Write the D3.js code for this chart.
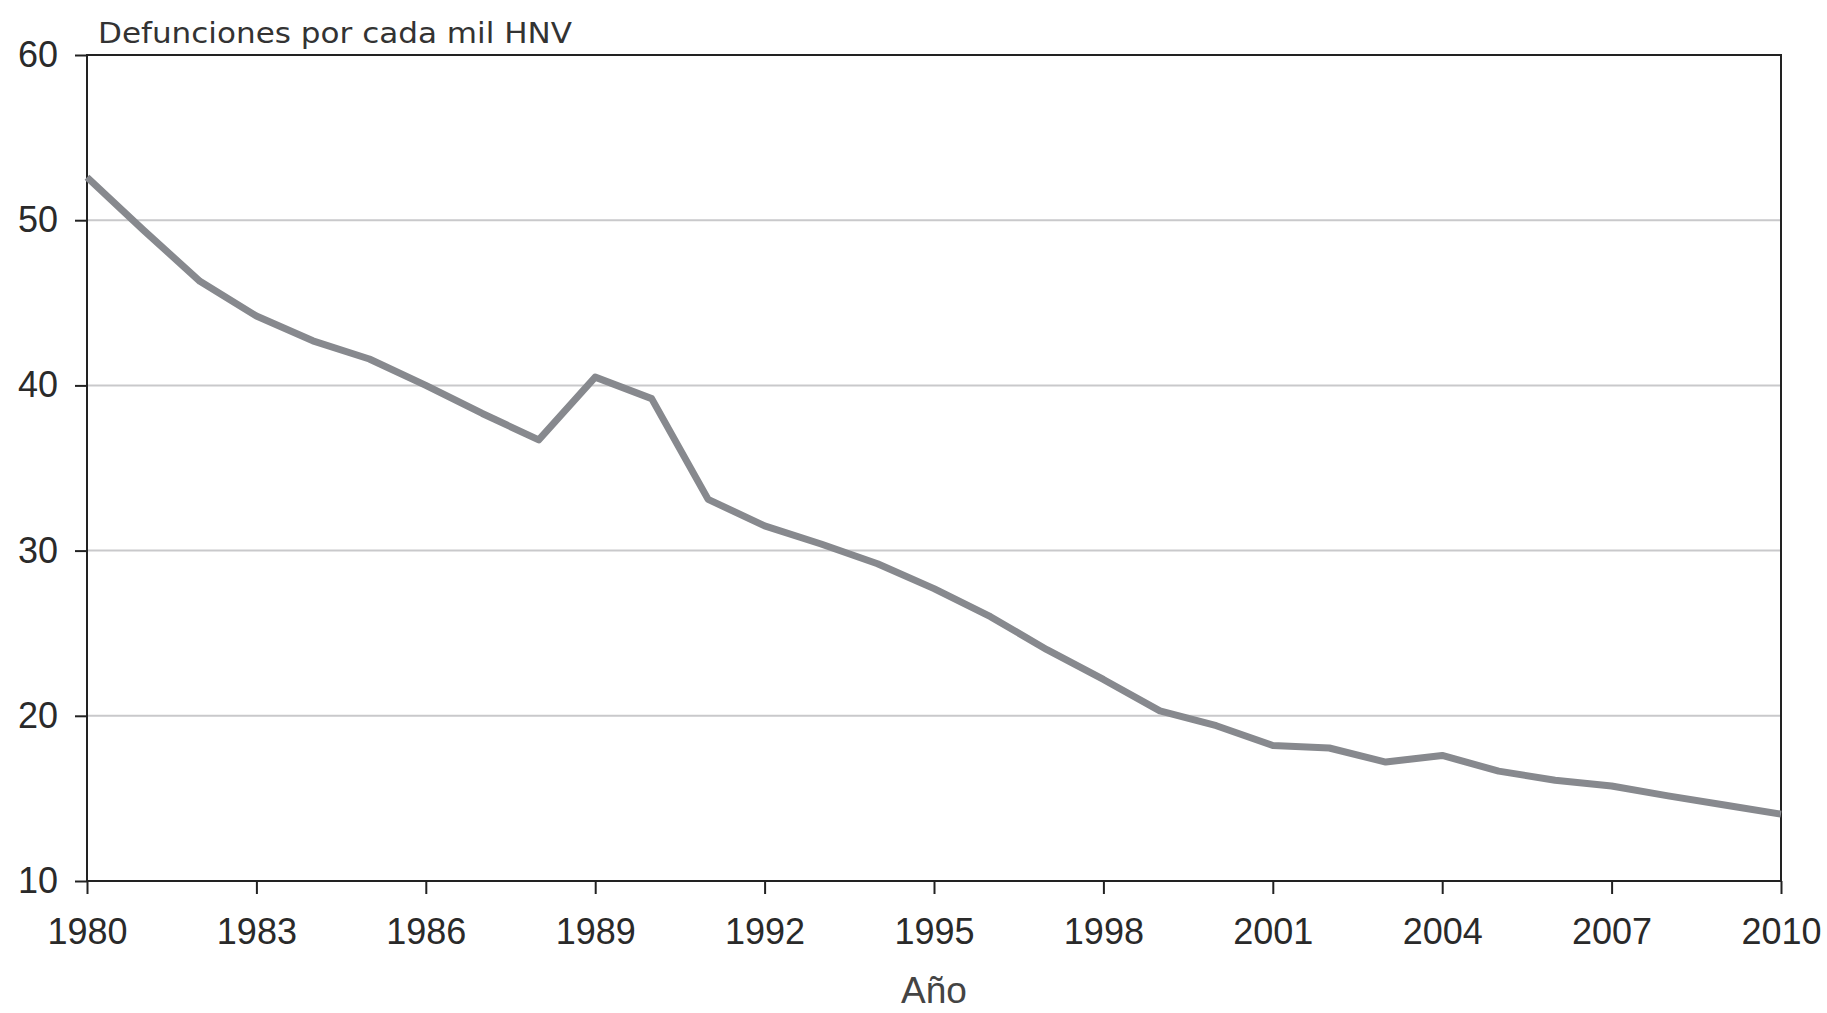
<!DOCTYPE html>
<html>
<head>
<meta charset="utf-8">
<script src="https://cdn.jsdelivr.net/npm/d3@7"></script>
<style>
  html, body { margin: 0; padding: 0; background: #fff; }
  svg { display: block; }
</style>
</head>
<body>
<svg id="chart" width="1827" height="1013"></svg>
<script>
// ---- data ----
const years = [1980,1981,1982,1983,1984,1985,1986,1987,1988,1989,1990,1991,1992,1993,1994,1995,1996,1997,1998,1999,2000,2001,2002,2003,2004,2005,2006,2007,2008,2009,2010];
const rates = [52.6,49.4,46.3,44.2,42.7,41.6,40.0,38.3,36.7,40.5,39.2,33.1,31.5,30.4,29.2,27.7,26.0,24.0,22.2,20.3,19.4,18.2,18.05,17.2,17.6,16.65,16.1,15.75,15.15,14.6,14.05];
const xTicks = [1980,1983,1986,1989,1992,1995,1998,2001,2004,2007,2010];
const yTicks = [10,20,30,40,50,60];
const yTitle = "Defunciones por cada mil HNV";
const xTitle = "Año";

// ---- layout ----
const svg = d3.select("#chart");
const m = {left: 87, right: 1781, top: 55, bottom: 881};
const x = d3.scaleLinear().domain([1980, 2010]).range([m.left, m.right]);
const y = d3.scaleLinear().domain([10, 60]).range([m.bottom, m.top]);

// gridlines
svg.append("g")
  .selectAll("line")
  .data(yTicks.filter(d => d > 10 && d < 60))
  .join("line")
  .attr("x1", m.left).attr("x2", m.right)
  .attr("y1", d => y(d)).attr("y2", d => y(d))
  .attr("stroke", "#c9c9cb").attr("stroke-width", 2);

// frame
svg.append("rect")
  .attr("x", m.left).attr("y", m.top)
  .attr("width", m.right - m.left).attr("height", m.bottom - m.top)
  .attr("fill", "none").attr("stroke", "#222").attr("stroke-width", 2);

// y axis
const yAxis = svg.append("g")
  .attr("transform", `translate(${m.left},0)`)
  .call(d3.axisLeft(y).tickValues(yTicks).tickSize(12).tickPadding(17).tickFormat(d3.format("d")));
yAxis.select(".domain").remove();
yAxis.selectAll(".tick line").attr("stroke", "#222").attr("stroke-width", 2);
yAxis.selectAll(".tick text")
  .attr("font-family", "Liberation Sans, Arial, sans-serif")
  .attr("font-size", 36).attr("fill", "#2a2a2a");

// x axis
const xAxis = svg.append("g")
  .attr("transform", `translate(0,${m.bottom})`)
  .call(d3.axisBottom(x).tickValues(xTicks).tickSize(13).tickPadding(24).tickFormat(d3.format("d")));
xAxis.select(".domain").remove();
xAxis.selectAll(".tick line").attr("stroke", "#222").attr("stroke-width", 2);
xAxis.selectAll(".tick text")
  .attr("font-family", "Liberation Sans, Arial, sans-serif")
  .attr("font-size", 36).attr("fill", "#2a2a2a");

// line
const line = d3.line().x((d, i) => x(years[i])).y(d => y(d));
svg.append("path")
  .datum(rates)
  .attr("d", line)
  .attr("fill", "none")
  .attr("stroke", "#87898e")
  .attr("stroke-width", 7)
  .attr("stroke-linejoin", "round");

// titles
svg.append("text")
  .attr("x", 98).attr("y", 43)
  .attr("font-family", "DejaVu Sans, sans-serif")
  .attr("font-size", 29).attr("fill", "#333")
  .attr("textLength", 474).attr("lengthAdjust", "spacingAndGlyphs")
  .text(yTitle);

svg.append("text")
  .attr("x", (m.left + m.right) / 2).attr("y", 1003)
  .attr("text-anchor", "middle")
  .attr("font-family", "Liberation Sans, Arial, sans-serif")
  .attr("font-size", 37).attr("fill", "#444")
  .text(xTitle);
</script>
</body>
</html>
